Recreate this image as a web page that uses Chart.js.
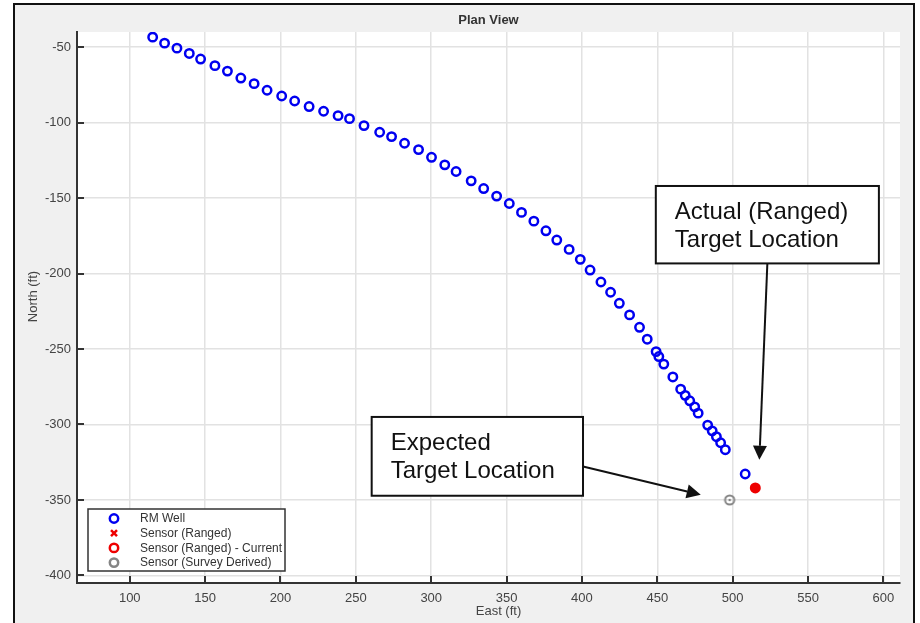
<!DOCTYPE html>
<html>
<head>
<meta charset="utf-8">
<title>Plan View</title>
<script src="https://cdn.jsdelivr.net/npm/chart.js@4"></script>
<style>
  html, body { margin: 0; padding: 0; background: #fff; }
  canvas { display: block; }
</style>
</head>
<body>
<canvas id="myChart" width="920" height="623"></canvas>
<script>
// RM well survey stations (ft)
const wellEast = [115.2, 123.1, 131.3, 139.5, 147.0, 156.5, 164.8, 173.7, 182.5, 191.1,
  200.8, 209.4, 219.0, 228.6, 238.2, 245.8, 255.4, 265.8, 273.7, 282.3,
  291.6, 300.2, 309.0, 316.5, 326.5, 334.8, 343.4, 351.8, 359.9, 368.1,
  376.1, 383.3, 391.5, 398.9, 405.4, 412.6, 419.0, 424.8, 431.6, 438.2,
  443.3, 449.2, 451.0, 454.3, 460.3, 465.5, 468.5, 471.5, 474.8, 477.1,
  483.4, 486.4, 489.2, 492.0, 495.1, 508.3];
const wellNorth = [-43.4, -47.4, -50.7, -54.2, -57.9, -62.3, -65.9, -70.5, -74.2, -78.6,
  -82.4, -85.7, -89.4, -92.5, -95.4, -97.4, -102.0, -106.4, -109.3, -113.7,
  -117.9, -123.0, -128.0, -132.4, -138.6, -143.7, -148.7, -153.6, -159.5, -165.3,
  -171.7, -177.8, -184.0, -190.6, -197.7, -205.6, -212.4, -219.7, -227.4, -235.6,
  -243.5, -251.7, -255.0, -260.0, -268.5, -276.6, -280.7, -284.3, -288.3, -292.5,
  -300.4, -304.2, -308.1, -312.1, -316.7, -332.8];

// sensor locations
const rangedEast = [515];
const rangedNorth = [-342];
const currentEast = [515];
const currentNorth = [-342];
const surveyEast = [498];
const surveyNorth = [-350];

// axis ticks
const xTicks = [100, 150, 200, 250, 300, 350, 400, 450, 500, 550, 600];
const yTicks = [-50, -100, -150, -200, -250, -300, -350, -400];

// callouts: text lines, box corners and arrow ends in data units
const callouts = [
  { lines: ['Actual (Ranged)', 'Target Location'], box: [449, -142, 597, -193.3], arrow: [523, -193.3, 517.7, -323.3] },
  { lines: ['Expected', 'Target Location'], box: [260.5, -295, 400.7, -347.2], arrow: [400.7, -327.8, 478.8, -346.5] }
];

const toPoints = (xs, ys) => xs.map((x, i) => ({ x: x, y: ys[i] }));

// ring with a dot for the survey derived marker
const surveyMarker = document.createElement('canvas');
surveyMarker.width = 14;
surveyMarker.height = 14;
{
  const c = surveyMarker.getContext('2d');
  c.strokeStyle = '#858585';
  c.lineWidth = 2;
  c.beginPath(); c.arc(7, 7, 4.6, 0, Math.PI * 2); c.stroke();
  c.fillStyle = '#858585';
  c.beginPath(); c.arc(7, 7, 1.3, 0, Math.PI * 2); c.fill();
}

const FONT = 'Arial, "Liberation Sans", sans-serif';

const decor = {
  id: 'decor',
  beforeDraw(chart) {
    const ctx = chart.ctx;
    const a = chart.chartArea;
    ctx.save();
    ctx.fillStyle = '#fff';
    ctx.fillRect(0, 0, chart.width, chart.height);
    ctx.fillStyle = '#f0f0f0';
    ctx.fillRect(14, 4, 900, 640);
    ctx.strokeStyle = '#111';
    ctx.lineWidth = 2;
    ctx.strokeRect(14, 4, 900, 640);
    ctx.fillStyle = '#fff';
    ctx.fillRect(a.left, a.top, a.right - a.left, a.bottom - a.top);
    ctx.restore();
  },
  afterDraw(chart) {
    const ctx = chart.ctx;
    const a = chart.chartArea;
    const xs = chart.scales.x, ys = chart.scales.y;
    ctx.save();

    // inward tick marks
    ctx.strokeStyle = '#333';
    ctx.lineWidth = 2;
    xs.ticks.forEach(t => {
      const px = Math.round(xs.getPixelForValue(t.value));
      ctx.beginPath(); ctx.moveTo(px, a.bottom); ctx.lineTo(px, a.bottom - 7); ctx.stroke();
    });
    ys.ticks.forEach(t => {
      const py = Math.round(ys.getPixelForValue(t.value));
      ctx.beginPath(); ctx.moveTo(a.left, py); ctx.lineTo(a.left + 7, py); ctx.stroke();
    });

    // titles
    ctx.fillStyle = '#333';
    ctx.textAlign = 'center';
    ctx.textBaseline = 'middle';
    ctx.font = 'bold 13px ' + FONT;
    ctx.fillText('Plan View', (a.left + a.right) / 2, 20);
    ctx.fillStyle = '#444';
    ctx.font = '13px ' + FONT;
    ctx.fillText('East (ft)', (a.left + a.right) / 2 + 10, 611);
    ctx.save();
    ctx.translate(33, (a.top + a.bottom) / 2 - 11);
    ctx.rotate(-Math.PI / 2);
    ctx.fillText('North (ft)', 0, 0);
    ctx.restore();

    // legend in lower left of plot
    const lx = a.left + 11, ly = a.bottom - 74;
    ctx.fillStyle = '#fff';
    ctx.fillRect(lx, ly, 197, 62);
    ctx.strokeStyle = '#333';
    ctx.lineWidth = 1.5;
    ctx.strokeRect(lx, ly, 197, 62);
    ctx.font = '12px ' + FONT;
    ctx.textAlign = 'left';
    ctx.fillStyle = '#333';
    chart.data.datasets.forEach((ds, i) => {
      const cy = ly + 9.5 + i * 14.7;
      const mx = lx + 26;
      ctx.strokeStyle = ds.legendColor;
      ctx.lineWidth = 2.5;
      ctx.beginPath();
      if (ds.pointStyle === 'crossRot') {
        ctx.moveTo(mx - 3, cy - 3); ctx.lineTo(mx + 3, cy + 3);
        ctx.moveTo(mx + 3, cy - 3); ctx.lineTo(mx - 3, cy + 3);
      } else {
        ctx.arc(mx, cy, 4.2, 0, Math.PI * 2);
      }
      ctx.stroke();
      ctx.fillStyle = '#333';
      ctx.fillText(ds.label, lx + 52, cy + 0.5);
    });

    // callout boxes with arrows
    callouts.forEach(c => {
      const x0 = xs.getPixelForValue(c.box[0]), y0 = ys.getPixelForValue(c.box[1]);
      const x1 = xs.getPixelForValue(c.box[2]), y1 = ys.getPixelForValue(c.box[3]);
      ctx.fillStyle = '#fff';
      ctx.fillRect(x0, y0, x1 - x0, y1 - y0);
      ctx.strokeStyle = '#111';
      ctx.lineWidth = 2;
      ctx.strokeRect(x0, y0, x1 - x0, y1 - y0);
      ctx.fillStyle = '#111';
      ctx.font = '24px ' + FONT;
      ctx.textAlign = 'left';
      ctx.textBaseline = 'middle';
      c.lines.forEach((s, k) => ctx.fillText(s, x0 + 19, y0 + 26 + k * 28.5));

      const ax = xs.getPixelForValue(c.arrow[0]), ay = ys.getPixelForValue(c.arrow[1]);
      const bx = xs.getPixelForValue(c.arrow[2]), by = ys.getPixelForValue(c.arrow[3]);
      const len = Math.hypot(bx - ax, by - ay);
      const ux = (bx - ax) / len, uy = (by - ay) / len;
      const hx = bx - ux * 14, hy = by - uy * 14;
      ctx.beginPath(); ctx.moveTo(ax, ay); ctx.lineTo(hx, hy); ctx.stroke();
      ctx.beginPath();
      ctx.moveTo(bx, by);
      ctx.lineTo(hx - uy * 7, hy + ux * 7);
      ctx.lineTo(hx + uy * 7, hy - ux * 7);
      ctx.closePath();
      ctx.fill();
    });
    ctx.restore();
  }
};

const ctx = document.getElementById('myChart');
new Chart(ctx, {
  type: 'scatter',
  data: {
    datasets: [
      {
        label: 'RM Well',
        data: toPoints(wellEast, wellNorth),
        pointStyle: 'circle',
        radius: 4.2,
        borderWidth: 2.5,
        borderColor: '#0000f0',
        backgroundColor: 'rgba(0,0,0,0)',
        legendColor: '#0000f0',
        order: 2
      },
      {
        label: 'Sensor (Ranged)',
        data: toPoints(rangedEast, rangedNorth),
        pointStyle: 'crossRot',
        radius: 4,
        borderWidth: 2.5,
        borderColor: '#ee0000',
        legendColor: '#ee0000',
        order: 1
      },
      {
        label: 'Sensor (Ranged) - Current',
        data: toPoints(currentEast, currentNorth),
        pointStyle: 'circle',
        radius: 5.5,
        borderWidth: 0,
        backgroundColor: '#ee0000',
        legendColor: '#ee0000',
        order: 0
      },
      {
        label: 'Sensor (Survey Derived)',
        data: toPoints(surveyEast, surveyNorth),
        pointStyle: surveyMarker,
        legendColor: '#858585',
        order: 0
      }
    ]
  },
  options: {
    responsive: false,
    animation: false,
    layout: { padding: { left: 14, right: 20, top: 32, bottom: 0 } },
    scales: {
      x: {
        type: 'linear',
        min: 65,
        max: 611,
        afterBuildTicks: s => { s.ticks = xTicks.map(v => ({ value: v })); },
        afterFit: s => { s.height = 40; },
        grid: { color: '#e2e2e2', lineWidth: 1.5, drawTicks: false },
        border: { color: '#333', width: 2 },
        ticks: { color: '#444', padding: 8, font: { family: FONT, size: 13 } }
      },
      y: {
        type: 'linear',
        min: -405,
        max: -40,
        afterBuildTicks: s => { s.ticks = yTicks.map(v => ({ value: v })); },
        afterFit: s => { s.width = 63; },
        grid: { color: '#e2e2e2', lineWidth: 1.5, drawTicks: false },
        border: { color: '#333', width: 2 },
        ticks: { color: '#444', padding: 6, font: { family: FONT, size: 13 } }
      }
    },
    plugins: {
      legend: { display: false },
      title: { display: false },
      tooltip: { enabled: false }
    }
  },
  plugins: [decor]
});
</script>
</body>
</html>
